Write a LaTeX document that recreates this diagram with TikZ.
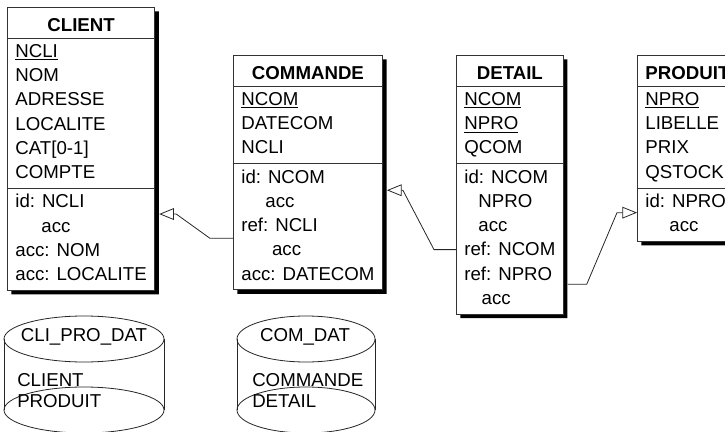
\documentclass[tikz,border=0pt]{standalone}
\usepackage{fontspec}
\setmainfont{Liberation Sans}
\usetikzlibrary{shapes.multipart,shadows,arrows.meta,calc}

\newcommand{\rows}[1]{\strut#1\strut}
\newcommand{\tabtitle}[1]{\rule[-3.4pt]{0pt}{19.4pt}\textbf{#1}}

\tikzset{
  entity/.style={rectangle split, rectangle split parts=3,
    rectangle split part align={center,left,left},
    draw=black!80, line width=0.6pt, fill=white, align=left,
    inner xsep=6pt, inner ysep=1.5pt, anchor=north west,
    font=\fontsize{14}{18.2}\selectfont,
    drop shadow={shadow xshift=3pt, shadow yshift=-3pt, fill=black, opacity=1}},
  fk/.style={draw=black!85, line width=0.6pt,
    -{Triangle[open, length=11pt, width=8.8pt]}},
  store/.style={draw=black!85, line width=0.6pt},
  storetext/.style={font=\fontsize{14}{16}\selectfont, inner sep=0pt}
}

\begin{document}
\begin{tikzpicture}[x=0.75pt, y=-0.75pt]
        \useasboundingbox (0,0) rectangle (725,432);

        % tables
        \node[entity] (client) at (7,7) {\tabtitle{CLIENT}
            \nodepart{two}\rows{\underline{NCLI}\\NOM\\ADRESSE\\LOCALITE\\CAT[0-1]\\COMPTE}
            \nodepart{three}\rows{id: NCLI\\\hspace*{19.5pt}acc\\acc: NOM\\acc: LOCALITE}};
        \node[entity] (commande) at (233,55) {\tabtitle{COMMANDE}
            \nodepart{two}\rows{\underline{NCOM}\\DATECOM\\NCLI}
            \nodepart{three}\rows{id: NCOM\\\hspace*{18pt}acc\\ref: NCLI\\\hspace*{23pt}acc\\acc: DATECOM}};
        \node[entity] (detail) at (456,55) {\tabtitle{DETAIL}
            \nodepart{two}\rows{\underline{NCOM}\\\underline{NPRO}\\QCOM}
            \nodepart{three}\rows{id: NCOM\\\hspace*{10.5pt}NPRO\\\hspace*{10.5pt}acc\\ref: NCOM\\ref: NPRO\\\hspace*{13pt}acc}};
        \node[entity] (produit) at (637,55) {\tabtitle{PRODUIT}
            \nodepart{two}\rows{\underline{NPRO}\\LIBELLE\\PRIX\\QSTOCK}
            \nodepart{three}\rows{id: NPRO\\\hspace*{18pt}acc}};

        % key groups
        \coordinate (client-id) at ($(client.two split east)!0.25!(client.south east)+(4,0)$);
        \coordinate (commande-id) at ($(commande.two split east)!0.21!(commande.south east)+(4,0)$);
        \coordinate (commande-ref) at ($(commande.two split west)!0.59!(commande.south west)$);
        \coordinate (detail-ref1) at ($(detail.two split west)!0.57!(detail.south west)$);
        \coordinate (detail-ref2) at ($(detail.two split east)!0.80!(detail.south east)+(4,0)$);
        \coordinate (produit-id) at ($(produit.two split west)!0.46!(produit.south west)$);

        % foreign keys
        \draw[fk] (commande-ref) -- ++(-23,0) -- ($(client-id)+(17,0)$) -- (client-id);
        \draw[fk] (detail-ref1) -- ++(-22,0) -- ($(commande-id)+(16,0)$) -- (commande-id);
        \draw[fk] (detail-ref2) -- ++(19,0) -- ($(produit-id)+(-20,0)$) -- (produit-id);

        % storage spaces
        \draw[store] (84,339) ellipse [x radius=80, y radius=23];
        \draw[store] (4,339) -- (4,410) (164,339) -- (164,410);
        \draw[store] (84,410) ellipse [x radius=80, y radius=23];
        \node[storetext] (clipro) at (84,337) {CLI\_PRO\_DAT};
        \node[storetext, anchor=west] (clipro-t1) at (17,380) {CLIENT};
        \node[storetext, anchor=west] (clipro-t2) at (17,401) {PRODUIT};

        \draw[store] (306,339) ellipse [x radius=69, y radius=23];
        \draw[store] (237,339) -- (237,410) (375,339) -- (375,410);
        \draw[store] (306,410) ellipse [x radius=69, y radius=23];
        \node[storetext] (comdat) at (305,337) {COM\_DAT};
        \node[storetext, anchor=west] (comdat-t1) at (252,380) {COMMANDE};
        \node[storetext, anchor=west] (comdat-t2) at (252,401) {DETAIL};
    \end{tikzpicture}
\end{document}
